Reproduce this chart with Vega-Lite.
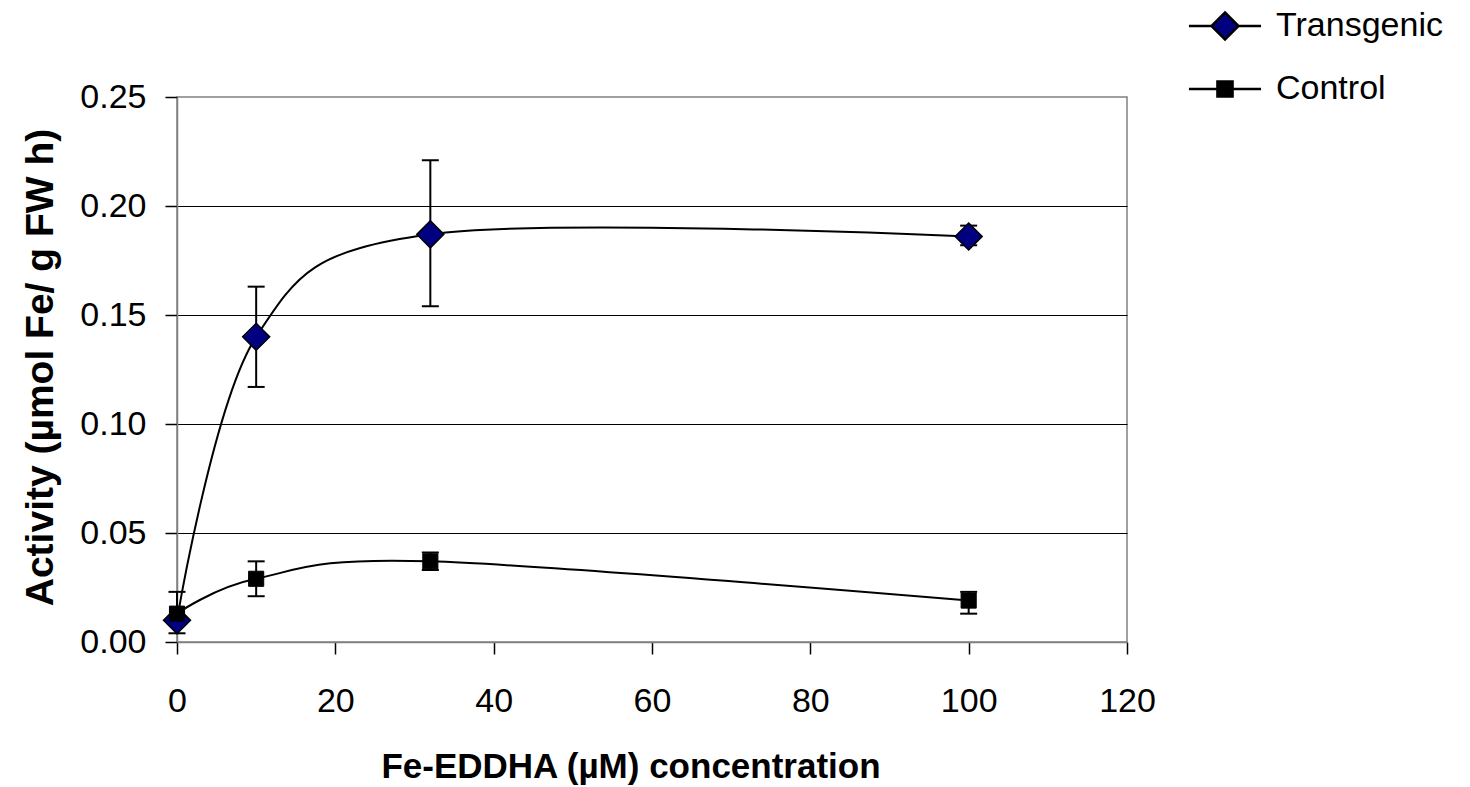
{
  "$schema": "https://vega.github.io/schema/vega-lite/v6.json",
  "width": 950,
  "height": 545,
  "autosize": {"type": "none"},
  "padding": {"left": 177, "top": 97, "right": 343, "bottom": 145},
  "background": "white",
  "config": {
    "font": "Liberation Sans",
    "view": {"stroke": "#808080", "strokeWidth": 1.5},
    "axis": {
      "domainColor": "#808080",
      "domainWidth": 1.5,
      "tickColor": "#000000",
      "tickWidth": 1.5,
      "tickSize": 12,
      "labelFont": "Liberation Sans",
      "labelFontSize": 34,
      "labelColor": "#000000",
      "labelFlush": false,
      "titleFont": "Liberation Sans",
      "titleFontWeight": "bold",
      "titleColor": "#000000"
    }
  },
  "data": {
    "values": [
      {"series": "Transgenic", "conc": 0, "activity": 0.010},
      {"series": "Transgenic", "conc": 10, "activity": 0.140, "lo": 0.117, "hi": 0.163},
      {"series": "Transgenic", "conc": 32, "activity": 0.187, "lo": 0.154, "hi": 0.221},
      {"series": "Transgenic", "conc": 100, "activity": 0.186, "lo": 0.182, "hi": 0.191},
      {"series": "Control", "conc": 0, "activity": 0.013, "lo": 0.004, "hi": 0.023},
      {"series": "Control", "conc": 10, "activity": 0.029, "lo": 0.021, "hi": 0.037},
      {"series": "Control", "conc": 32, "activity": 0.037, "lo": 0.033, "hi": 0.041},
      {"series": "Control", "conc": 100, "activity": 0.019, "lo": 0.013, "hi": 0.023}
    ]
  },
  "encoding": {
    "x": {
      "field": "conc",
      "type": "quantitative",
      "scale": {"domain": [0, 120], "nice": false},
      "axis": {
        "values": [0, 20, 40, 60, 80, 100, 120],
        "grid": false,
        "labelPadding": 30,
        "title": "Fe-EDDHA (µM) concentration",
        "titleFontSize": 35,
        "titleX": 453.5,
        "titleY": 135,
        "titleAlign": "center",
        "titleBaseline": "alphabetic"
      }
    }
  },
  "layer": [
    {
      "mark": {"type": "line", "interpolate": "cardinal", "color": "#000000", "strokeWidth": 2},
      "encoding": {
        "y": {
          "field": "activity",
          "type": "quantitative",
          "scale": {"domain": [0, 0.25], "nice": false},
          "axis": {
            "values": [0, 0.05, 0.1, 0.15, 0.2, 0.25],
            "format": ".2f",
            "grid": true,
            "gridColor": {"condition": {"test": "datum.value >= 0.249 || datum.value <= 0.001", "value": "transparent"}, "value": "#000000"},
            "gridWidth": 1,
            "labelPadding": 19,
            "title": "Activity (µmol Fe/ g FW h)",
            "titleFontSize": 39,
            "titleX": -125,
            "titleY": 270,
            "titleAngle": -90,
            "titleAlign": "center",
            "titleBaseline": "alphabetic"
          }
        },
        "detail": {"field": "series"}
      }
    },
    {
      "mark": {"type": "rule", "color": "#000000", "strokeWidth": 2},
      "encoding": {
        "y": {"field": "lo", "type": "quantitative"},
        "y2": {"field": "hi"}
      }
    },
    {
      "mark": {"type": "tick", "orient": "horizontal", "color": "#000000", "thickness": 2, "size": 17, "opacity": 1},
      "encoding": {"y": {"field": "lo", "type": "quantitative"}}
    },
    {
      "mark": {"type": "tick", "orient": "horizontal", "color": "#000000", "thickness": 2, "size": 17, "opacity": 1},
      "encoding": {"y": {"field": "hi", "type": "quantitative"}}
    },
    {
      "transform": [{"filter": "datum.series === 'Transgenic'"}],
      "mark": {"type": "point", "filled": true, "size": 729, "opacity": 1, "shape": "M0,-1L1,0L0,1L-1,0Z", "fill": "#000080", "stroke": "#000000", "strokeWidth": 1.5},
      "encoding": {"y": {"field": "activity", "type": "quantitative"}}
    },
    {
      "transform": [{"filter": "datum.series === 'Control'"}],
      "mark": {"type": "point", "filled": true, "size": 729, "opacity": 1, "shape": "M-0.56,-0.56H0.56V0.56H-0.56Z", "fill": "#000000", "stroke": "#000000", "strokeWidth": 1},
      "encoding": {"y": {"field": "activity", "type": "quantitative"}}
    },
    {
      "transform": [{"filter": "false"}],
      "mark": {"type": "point", "filled": true, "size": 729, "opacity": 1, "stroke": "#000000", "strokeWidth": 2},
      "encoding": {
        "y": {"field": "activity", "type": "quantitative"},
        "shape": {
          "field": "series",
          "type": "nominal",
          "scale": {
            "domain": ["Transgenic", "Control"],
            "range": ["M-2.67,0H-1M1,0H2.67M0,-1L1,0L0,1L-1,0Z", "M-2.67,0H2.67M-0.56,-0.56H0.56V0.56H-0.56Z"]
          },
          "legend": {
            "title": null,
            "orient": "none",
            "legendX": 1031,
            "legendY": -88,
            "padding": 0,
            "symbolSize": 729,
            "symbolStrokeWidth": 2.5,
            "labelOffset": 34,
            "labelLimit": 0,
            "rowPadding": 27,
            "labelFontSize": 34,
            "labelFont": "Liberation Sans",
            "labelColor": "#000000",
            "encode": {
              "symbols": {
                "stroke": {"value": "#000000"},
                "strokeWidth": {"value": 2.5},
                "opacity": {"value": 1},
                "fillOpacity": {"value": 1}
              }
            }
          }
        },
        "fill": {
          "field": "series",
          "type": "nominal",
          "scale": {"domain": ["Transgenic", "Control"], "range": ["#000080", "#000000"]},
          "legend": null
        }
      }
    }
  ]
}
